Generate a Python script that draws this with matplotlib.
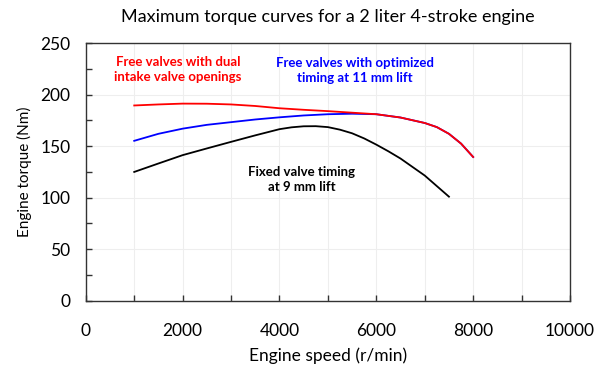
import matplotlib
matplotlib.use("Agg")
import matplotlib.pyplot as plt
from matplotlib.ticker import MultipleLocator

plt.rcParams['font.family'] = ['Lato', 'DejaVu Sans']

speed_red = [1000, 1500, 2000, 2500, 3000, 3500, 4000, 4500, 5000, 5500, 6000, 6500, 7000, 7250, 7500, 7750, 8000]
torque_red = [189.5, 190.5, 191.3, 191.2, 190.5, 189, 186.8, 185.3, 184, 182.5, 181, 177.8, 172.5, 168.5, 162, 152.5, 139.5]

speed_blue = [1000, 1500, 2000, 2500, 3000, 3500, 4000, 4500, 5000, 5500, 6000, 6500, 7000, 7250, 7500, 7750, 8000]
torque_blue = [155.2, 162, 167, 170.7, 173.3, 175.9, 178, 179.8, 181, 181.5, 181, 177.8, 172.5, 168.5, 162, 152.5, 139.5]

speed_black = [1000, 1500, 2000, 2500, 3000, 3500, 4000, 4250, 4500, 4750, 5000, 5250, 5500, 5750, 6000, 6250, 6500, 7000, 7500]
torque_black = [125, 133.2, 141.3, 147.8, 154.2, 160.5, 166.5, 168.3, 169.3, 169.4, 168.5, 166, 162.5, 157.5, 151.5, 145, 138, 121.5, 101]

title = "Maximum torque curves for a 2 liter 4-stroke engine"
xlabel = "Engine speed (r/min)"
ylabel = "Engine torque (Nm)"
label_red = "Free valves with dual\nintake valve openings"
label_blue = "Free valves with optimized\ntiming at 11 mm lift"
label_black = "Fixed valve timing\nat 9 mm lift"

fig = plt.figure(figsize=(6, 3.75), dpi=100)
ax = fig.add_axes([0.143, 0.198, 0.807, 0.687])

ax.plot(speed_blue, torque_blue, color='#0000ff', lw=1.3, zorder=3)
ax.plot(speed_red, torque_red, color='#ff0000', lw=1.3, zorder=4)
ax.plot(speed_black, torque_black, color='#000000', lw=1.3, zorder=3)

ax.set_xlim(0, 10000)
ax.set_ylim(0, 250)
ax.xaxis.set_major_locator(MultipleLocator(2000))
ax.xaxis.set_minor_locator(MultipleLocator(1000))
ax.yaxis.set_major_locator(MultipleLocator(50))
ax.yaxis.set_minor_locator(MultipleLocator(25))
ax.grid(True, which='major', axis='y', color='#eeeeee', lw=0.8)
ax.grid(True, which='both', axis='x', color='#eeeeee', lw=0.8)
ax.set_axisbelow(True)

ax.tick_params(which='both', direction='in', length=4, width=1, color='#333333')
ax.tick_params(axis='x', which='major', pad=16, labelsize=12.5)
ax.tick_params(axis='y', which='major', pad=11, labelsize=12.5)
for s in ax.spines.values():
    s.set_color('#333333')
    s.set_linewidth(1)

ax.set_title(title, fontsize=13, pad=15)
ax.set_xlabel(xlabel, fontsize=12.5, labelpad=6)
ax.set_ylabel(ylabel, fontsize=11, labelpad=6)

ax.text(1900, 224, label_red, color='#ff0000', fontsize=9.5, fontweight='bold', ha='center', va='center', linespacing=1.3)
ax.text(5560, 223, label_blue, color='#0000ff', fontsize=9.5, fontweight='bold', ha='center', va='center', linespacing=1.3)
ax.text(4460, 117.5, label_black, color='#000000', fontsize=9.5, fontweight='bold', ha='center', va='center', linespacing=1.3)

fig.savefig('out.png', dpi=100)
